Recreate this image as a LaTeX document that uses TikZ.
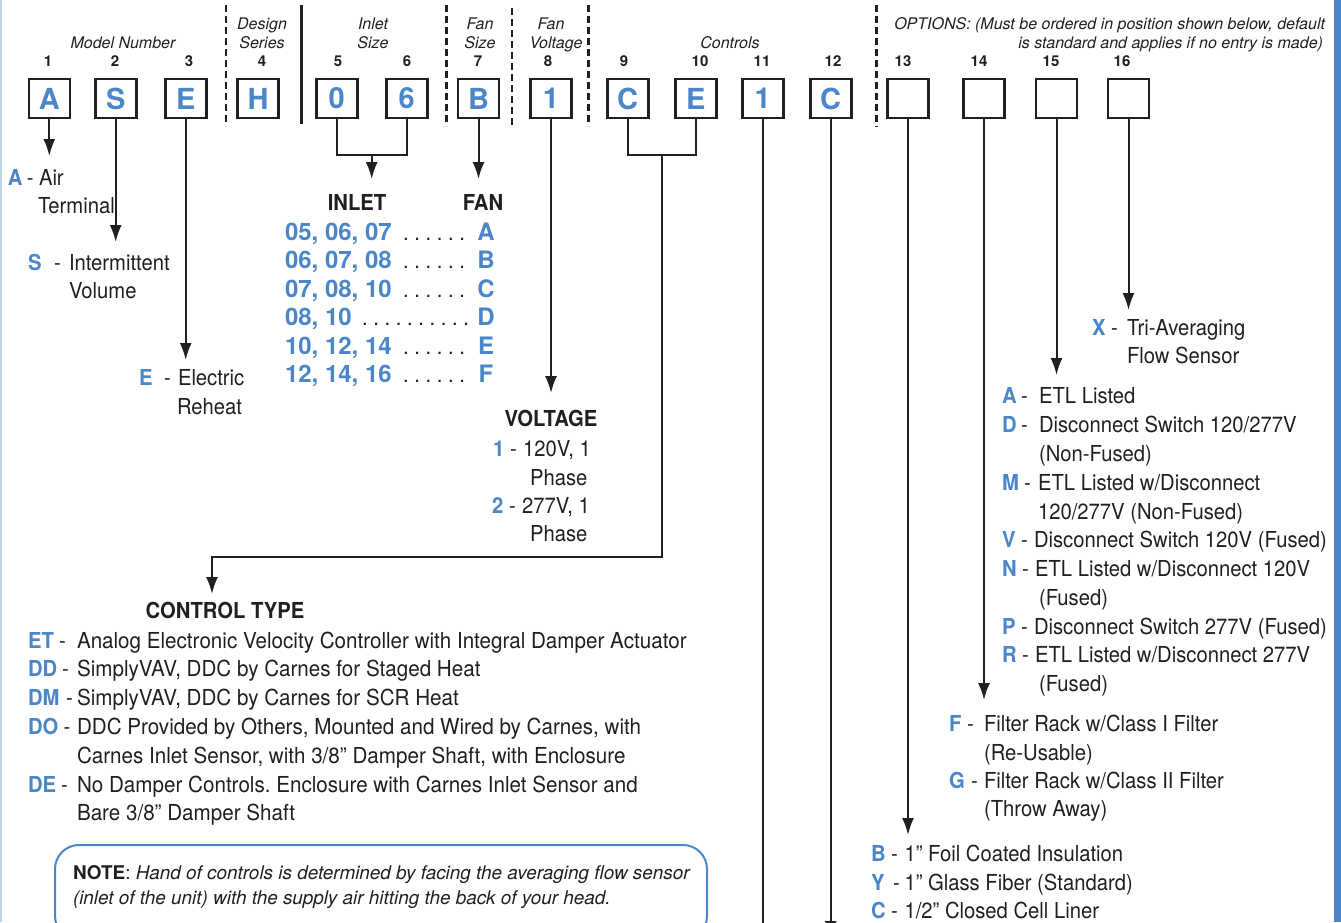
\documentclass[tikz,border=0pt]{standalone}
\usepackage{fontspec}
\setmainfont{TeX Gyre Heros}
\newfontfamily\cnd[FakeStretch=0.92]{TeX Gyre Heros}
\newfontfamily\cndw[FakeStretch=0.937]{TeX Gyre Heros}
\usetikzlibrary{arrows.meta}
\definecolor{cblue}{RGB}{74,134,200}
\definecolor{ink}{RGB}{35,31,32}
\definecolor{lblue}{RGB}{190,212,238}
\newcommand\codeline[7]{%
  \node[cde] (#1c) at (#2,#5) {#6};
  \node[txt] (#1d) at (#3,#5) {-};
  \node[txt] (#1t) at (#4,#5) {#7};}
\tikzset{
  every node/.style={inner sep=0pt, outer sep=0pt, text=ink},
  box/.style={draw=ink, line width=2.6pt, minimum width=41pt, minimum height=39pt,
    font=\fontsize{29pt}{29pt}\selectfont\bfseries, text=cblue},
  hdr/.style={font=\fontsize{16pt}{16pt}\selectfont\itshape, anchor=base},
  num/.style={font=\fontsize{15pt}{15pt}\selectfont\bfseries, anchor=base},
  txt/.style={font=\cnd\fontsize{22pt}{22pt}\selectfont, anchor=base west},
  txtw/.style={font=\cndw\fontsize{22pt}{22pt}\selectfont, anchor=base west},
  cde/.style={font=\cnd\fontsize{22pt}{22pt}\selectfont\bfseries, text=cblue, anchor=base west},
  ttl/.style={font=\cnd\fontsize{22pt}{22pt}\selectfont\bfseries, anchor=base},
  big/.style={font=\fontsize{24pt}{24pt}\selectfont\bfseries, text=cblue},
  note/.style={font=\fontsize{18.9pt}{18.9pt}\selectfont, anchor=base west},
  link/.style={draw=ink, line width=2pt},
  arr/.style={link, -{Latex[length=17pt,width=12pt]}},
  sepd/.style={draw=ink, line width=2.6pt, dash pattern=on 7pt off 4pt},
  seps/.style={draw=ink, line width=3pt},
}
\begin{document}
\frenchspacing
\begin{tikzpicture}[x=1pt,y=-1pt]
\useasboundingbox (0,0) rectangle (1341,922);
\clip (0,0) rectangle (1341,922);
\fill[white] (0,0) rectangle (1341,922);
\fill[lblue] (0,0) rectangle (1.5,922);
\fill[cblue] (1334,0) rectangle (1341,922);

% separators
\draw[sepd] (226,5) -- (226,126);
\draw[seps] (301,5) -- (301,124);
\draw[sepd] (446.5,5) -- (446.5,126);
\draw[sepd] (512,8) -- (512,128);
\draw[sepd] (588.5,5) -- (588.5,126);
\draw[sepd] (876.5,5) -- (876.5,127);

% headers
\node[hdr] (hModel) at (123,48) {Model Number};
\node[hdr] (hDes1) at (262,29) {Design};
\node[hdr] (hDes2) at (262,48) {Series};
\node[hdr] (hIn1) at (373,29) {Inlet};
\node[hdr] (hIn2) at (373,48) {Size};
\node[hdr] (hFs1) at (480,29) {Fan};
\node[hdr] (hFs2) at (480,48) {Size};
\node[hdr] (hFv1) at (551,29) {Fan};
\node[hdr] (hFv2) at (556,48) {Voltage};
\node[hdr] (hCtl) at (730,48) {Controls};
\node[hdr, anchor=base east] (hOpt1) at (1325,29) {OPTIONS: (Must be ordered in position shown below, default};
\node[hdr, anchor=base east] (hOpt2) at (1323,48) {is standard and applies if no entry is made)};

% position numbers
\foreach \n/\x in {1/48,2/115,3/189,4/262,5/338,6/407,7/478,8/548,9/624,10/700,11/762,12/833,13/903,14/979,15/1051,16/1122}
  \node[num] (n\n) at (\x,66) {\n};

% boxes
\foreach \n/\x/\t in {1/49.3/A,2/115.7/S,3/185.7/E,4/258/H,5/336.7/0,6/406.7/6,7/478.5/B,8/551/1,9/627.7/C,10/695.7/E,11/762.7/1,12/830.7/C,13/908/{},14/984/{},15/1056.5/{},16/1128.5/{}}
  \node[box] (b\n) at (\x,98.5) {\t};

% arrow targets
\coordinate (tA) at (49.3,156);
\coordinate (tS) at (115.7,242);
\coordinate (tE) at (185.7,360);
\coordinate (m56) at (371.7,155);
\coordinate (tIn) at (371.7,179);
\coordinate (tFan) at (478.5,179);
\coordinate (tV) at (551,393);
\coordinate (m910) at (661.7,155);
\coordinate (cbend) at (0,557);
\coordinate (tCT) at (212,594);
\coordinate (t11) at (762.7,935);
\coordinate (t12) at (830.7,938);
\coordinate (t13) at (908,835);
\coordinate (t14) at (984,700);
\coordinate (t15) at (1056.5,375);
\coordinate (t16) at (1128.5,310);

% connectors
\draw[arr] (b1.south) -- (tA);
\draw[arr] (b2.south) -- (tS);
\draw[arr] (b3.south) -- (tE);
\draw[link] (b5.south) -- ++(0,37) -| (b6.south);
\draw[arr] (m56) -- (tIn);
\draw[arr] (b7.south) -- (tFan);
\draw[arr] (b8.south) -- (tV);
\draw[link] (b9.south) -- ++(0,37) -| (b10.south);
\draw[arr] (m910) -- (m910 |- cbend) -| (tCT);
\draw[link] (b11.south) -- (t11);
\draw[arr] (b12.south) -- (t12);
\draw[arr] (b13.south) -- (t13);
\draw[arr] (b14.south) -- (t14);
\draw[arr] (b15.south) -- (t15);
\draw[arr] (b16.south) -- (t16);

% left column
\codeline{lA}{8}{27}{39}{185}{A}{Air}
\node[txt] (lA2) at (38,213) {Terminal};
\codeline{lS}{28}{54}{69}{270}{S}{Intermittent}
\node[txt] (lS2) at (69,298) {Volume};
\codeline{lE}{139}{164}{178}{385}{E}{Electric}
\node[txt] (lE2) at (177,414) {Reheat};

% inlet / fan table
\node[ttl] (tINLET) at (357,210) {INLET};
\node[ttl] (tFAN) at (483,210) {FAN};
\foreach \i/\y/\nums/\dx/\dts/\f in {
  1/240/{05, 06, 07}/403/{. . . . . .}/A,
  2/268.5/{06, 07, 08}/403/{. . . . . .}/B,
  3/297/{07, 08, 10}/403/{. . . . . .}/C,
  4/325.5/{08, 10}/362/{. . . . . . . . . .}/D,
  5/354/{10, 12, 14}/403/{. . . . . .}/E,
  6/382/{12, 14, 16}/403/{. . . . . .}/F}{
  \node[big, anchor=base west] (r\i n) at (285,\y) {\nums};
  \node[txt] (r\i d) at (\dx,\y) {\dts};
  \node[big, anchor=base] (r\i f) at (486,\y) {\f};
}

% voltage
\node[ttl] (tVOLT) at (551,426) {VOLTAGE};
\codeline{v1}{493}{510}{523}{456}{1}{120V, 1}
\node[txt] (v1b) at (530,485) {Phase};
\codeline{v2}{492}{509}{522}{513}{2}{277V, 1}
\node[txt] (v2b) at (530,541) {Phase};

% control type
\node[ttl] (tCTL) at (225,618) {CONTROL TYPE};
\codeline{cET}{28}{59}{77}{648}{ET}{\cndw Analog Electronic Velocity Controller with Integral Damper Actuator}
\codeline{cDD}{28}{62}{77}{676}{DD}{\cndw SimplyVAV, DDC by Carnes for Staged Heat}
\codeline{cDM}{28}{66}{77}{705}{DM}{\cndw SimplyVAV, DDC by Carnes for SCR Heat}
\codeline{cDO}{28}{63.5}{77}{734}{DO}{\cndw DDC Provided by Others, Mounted and Wired by Carnes, with}
\node[txtw] (cDO2) at (77,763) {Carnes Inlet Sensor, with 3/8” Damper Shaft, with Enclosure};
\codeline{cDE}{28}{61}{77}{792}{DE}{\cndw No Damper Controls. Enclosure with Carnes Inlet Sensor and}
\node[txtw] (cDE2) at (77,820) {Bare 3/8” Damper Shaft};

% note
\draw[cblue, line width=2pt, rounded corners=24pt] (55,845) rectangle (707,940);
\node[note] (nt1) at (73,879) {\textbf{NOTE}: \textit{Hand of controls is determined by facing the averaging flow sensor}};
\node[note] (nt2) at (73,904) {\textit{(inlet of the unit) with the supply air hitting the back of your head.}};

% options 16
\codeline{oX}{1092}{1111}{1127}{335}{X}{Tri-Averaging}
\node[txt] (oX2) at (1127,363) {Flow Sensor};
% options 15
\codeline{oA}{1002}{1021}{1039}{403}{A}{ETL Listed}
\codeline{oD}{1002}{1021}{1039}{432}{D}{Disconnect Switch 120/277V}
\node[txt] (oD2) at (1039,461) {(Non-Fused)};
\codeline{oM}{1002}{1024}{1038}{490}{M}{ETL Listed w/Disconnect}
\node[txt] (oM2) at (1038,519) {120/277V (Non-Fused)};
\codeline{oV}{1002}{1021}{1034}{547}{V}{Disconnect Switch 120V (Fused)}
\codeline{oN}{1002}{1022}{1035}{576}{N}{ETL Listed w/Disconnect 120V}
\node[txt] (oN2) at (1039,605) {(Fused)};
\codeline{oP}{1002}{1021}{1034}{634}{P}{Disconnect Switch 277V (Fused)}
\codeline{oR}{1002}{1022}{1035}{662}{R}{ETL Listed w/Disconnect 277V}
\node[txt] (oR2) at (1039,691) {(Fused)};
% options 14
\codeline{oF}{949}{967}{984}{731}{F}{Filter Rack w/Class I Filter}
\node[txt] (oF2) at (984,760) {(Re-Usable)};
\codeline{oG}{949}{971}{984}{788}{G}{Filter Rack w/Class II Filter}
\node[txt] (oG2) at (984,816) {(Throw Away)};
% options 13
\codeline{oB}{871}{891}{904.5}{861}{B}{1” Foil Coated Insulation}
\codeline{oY}{871}{893}{904.5}{890}{Y}{1” Glass Fiber (Standard)}
\codeline{oC}{871}{891}{904.5}{918}{C}{1/2” Closed Cell Liner}
\end{tikzpicture}
\end{document}
